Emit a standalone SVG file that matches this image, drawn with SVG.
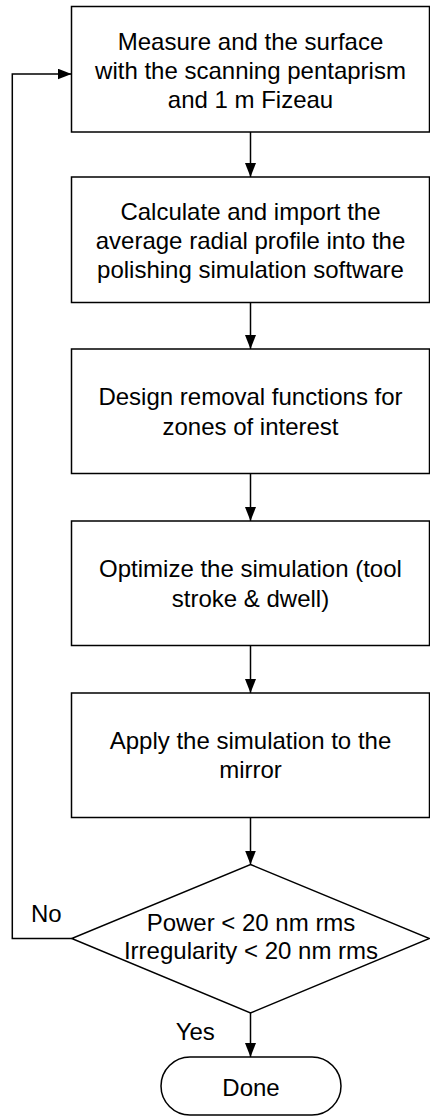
<svg xmlns="http://www.w3.org/2000/svg" width="430" height="1116" viewBox="0 0 430 1116">
  <style>
    .shape { fill: #ffffff; stroke: #000000; stroke-width: 1.5; }
    .conn { fill: none; stroke: #000000; stroke-width: 1.5; marker-end: url(#arrow); }
    .line { fill: none; stroke: #000000; stroke-width: 1.5; }
    text { font-family: "Liberation Sans", Arial, sans-serif; font-size: 24px; fill: #000000; }
    .c { text-anchor: middle; }
  </style>
  <defs>
    <marker id="arrow" markerUnits="userSpaceOnUse" markerWidth="14" markerHeight="11" refX="14" refY="5.5" orient="auto">
      <path d="M0,0 L14,5.5 L0,11 z" fill="#000000"/>
    </marker>
  </defs>
  <rect width="430" height="1116" fill="#ffffff"/>

  <g id="connectors">
    <line class="conn" x1="250.5" y1="132" x2="250.5" y2="177"/>
    <line class="conn" x1="250.5" y1="302.5" x2="250.5" y2="349"/>
    <line class="conn" x1="250.5" y1="473.5" x2="250.5" y2="521"/>
    <line class="conn" x1="250.5" y1="645.5" x2="250.5" y2="693"/>
    <line class="conn" x1="250.5" y1="817.5" x2="250.5" y2="864.5"/>
    <line class="conn" x1="250.5" y1="1013" x2="250.5" y2="1057"/>
    <polyline class="conn" points="71.7,938.5 12.3,938.5 12.3,74 71.5,74"/>
    <text x="31" y="921.7">No</text>
    <text x="175.7" y="1040">Yes</text>
  </g>

  <g id="measure">
    <rect class="shape" x="71.5" y="6.5" width="358" height="125.5"/>
    <text class="c" x="250.5" y="49.5">Measure and the surface</text>
    <text class="c" x="250.5" y="78.5">with the scanning pentaprism</text>
    <text class="c" x="250.5" y="107.5">and 1 m Fizeau</text>
  </g>

  <g id="calculate">
    <rect class="shape" x="71.5" y="177" width="358" height="125.5"/>
    <text class="c" x="250.5" y="220">Calculate and import the</text>
    <text class="c" x="250.5" y="249">average radial profile into the</text>
    <text class="c" x="250.5" y="278">polishing simulation software</text>
  </g>

  <g id="design">
    <rect class="shape" x="71.5" y="349" width="358" height="124.5"/>
    <text class="c" x="250.5" y="405">Design removal functions for</text>
    <text class="c" x="250.5" y="434.5">zones of interest</text>
  </g>

  <g id="optimize">
    <rect class="shape" x="71.5" y="521" width="358" height="124.5"/>
    <text class="c" x="250.5" y="577">Optimize the simulation (tool</text>
    <text class="c" x="250.5" y="606.5">stroke &amp; dwell)</text>
  </g>

  <g id="apply">
    <rect class="shape" x="71.5" y="693" width="358" height="124.5"/>
    <text class="c" x="250.5" y="748.5">Apply the simulation to the</text>
    <text class="c" x="250.5" y="778">mirror</text>
  </g>

  <g id="decision">
    <polygon class="shape" points="250.5,864.5 429.5,938.5 250.5,1013 71.7,938.5"/>
    <text class="c" x="251" y="930.5">Power &lt; 20 nm rms</text>
    <text class="c" x="251" y="959">Irregularity &lt; 20 nm rms</text>
  </g>

  <g id="done">
    <rect class="shape" x="161" y="1057" width="180" height="58" rx="29" ry="29"/>
    <text class="c" x="251" y="1096">Done</text>
  </g>
</svg>
